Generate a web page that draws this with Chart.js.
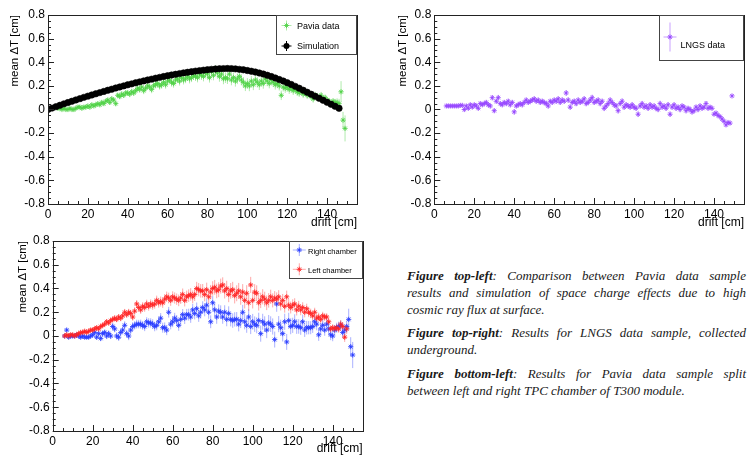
<!DOCTYPE html>
<html>
<head>
<meta charset="utf-8">
<script src="https://cdn.jsdelivr.net/npm/chart.js@4/dist/chart.umd.min.js"></script>
<style>
  body { margin: 0; width: 750px; height: 455px; background: #fff; position: relative; overflow: hidden; }
  canvas { position: absolute; }
  #cap { position: absolute; left: 407px; top: 267px; width: 339px; font-family: "Liberation Serif", "DejaVu Serif", serif;
         font-style: italic; font-size: 13px; line-height: 17px; color: #1a1a1a; }
  #cap .j { text-align: justify; text-align-last: justify; }
  #cap .p { margin-top: 6px; }
</style>
</head>
<body>
<canvas id="c1" width="375" height="230" style="left:0;top:0"></canvas>
<canvas id="c2" width="375" height="230" style="left:375px;top:0"></canvas>
<canvas id="c3" width="375" height="225" style="left:0;top:230px"></canvas>
<div id="cap">
  <div class="j"><b>Figure top-left</b>: Comparison between Pavia data sample</div>
  <div class="j">results and simulation of space charge effects due to high</div>
  <div>cosmic ray flux at surface.</div>
  <div class="j p"><b>Figure top-right</b>: Results for LNGS data sample, collected</div>
  <div>underground.</div>
  <div class="j p" style="margin-top:7px"><b>Figure bottom-left</b>: Results for Pavia data sample split</div>
  <div>between left and right TPC chamber of T300 module.</div>
</div>
<script>
// drift positions [cm], one bin per cm
const drift = [0,1,2,3,4,5,6,7,8,9,10,11,12,13,14,15,16,17,18,19,20,21,22,23,24,25,26,27,28,29,
  30,31,32,33,34,35,36,37,38,39,40,41,42,43,44,45,46,47,48,49,50,51,52,53,54,55,56,57,58,59,
  60,61,62,63,64,65,66,67,68,69,70,71,72,73,74,75,76,77,78,79,80,81,82,83,84,85,86,87,88,89,
  90,91,92,93,94,95,96,97,98,99,100,101,102,103,104,105,106,107,108,109,110,111,112,113,114,115,116,117,118,119,
  120,121,122,123,124,125,126,127,128,129,130,131,132,133,134,135,136,137,138,139,140,141,142,143,144,145,146,147,148,149,150];

const yTicks = [-0.8, -0.6, -0.4, -0.2, 0, 0.2, 0.4, 0.6, 0.8];
const xTicks = [0, 20, 40, 60, 80, 100, 120, 140];

// Pavia data, drift 5..149
const pavStart = 5;
const pavia = [0.01,0.01,0.00,0.01,0.00, 0.00,0.01,0.00,0.00,0.01, 0.02,0.02,0.01,0.02,0.02,
  0.03,0.02,0.04,0.03,0.04, 0.05,0.04,0.06,0.05,0.07, 0.08,0.06,0.09,0.08,0.05,
  0.12,0.11,0.13,0.12,0.14, 0.14,0.13,0.15,0.14,0.16, 0.18,0.17,0.19,0.16,0.18,
  0.20,0.19,0.17,0.20,0.21, 0.22,0.20,0.21,0.23,0.21, 0.24,0.25,0.23,0.22,0.25,
  0.26,0.24,0.27,0.25,0.26, 0.28,0.26,0.27,0.29,0.28, 0.27,0.30,0.29,0.28,0.31,
  0.30,0.27,0.32,0.29,0.33, 0.31,0.28,0.30,0.26,0.27, 0.26,0.30,0.25,0.27,0.24,
  0.26,0.28,0.25,0.23,0.20, 0.22,0.20,0.24,0.21,0.25, 0.23,0.21,0.24,0.22,0.26,
  0.24,0.22,0.25,0.23,0.21, 0.22,0.20,0.12,0.19,0.18, 0.19,0.17,0.18,0.16,0.17,
  0.15,0.14,0.16,0.13,0.15, 0.12,0.13,0.11,0.09,0.12, 0.11,0.10,0.12,0.09,0.10,
  0.08,0.07,0.05,0.07,0.06, 0.06,0.05,0.15,-0.09,-0.16];
const paviaErr = [.006,.007,.006,.007,.008,.007,.008,.008,.009,.009,
  .010,.011,.010,.012,.012,.013,.012,.014,.014,.015,
  .016,.015,.017,.018,.018,.019,.020,.021,.020,.022,
  .022,.023,.024,.023,.025,.025,.026,.027,.026,.028,
  .028,.029,.028,.030,.030,.031,.030,.032,.031,.032,
  .033,.032,.034,.033,.034,.035,.034,.036,.035,.036,
  .036,.037,.036,.038,.037,.038,.039,.038,.040,.039,
  .040,.041,.040,.042,.041,.043,.042,.044,.043,.045,
  .044,.045,.044,.046,.045,.044,.046,.045,.044,.046,
  .045,.044,.046,.045,.044,.046,.045,.044,.046,.045,
  .044,.045,.043,.044,.042,.043,.041,.042,.040,.041,
  .040,.039,.040,.038,.039,.037,.038,.036,.037,.035,
  .036,.034,.035,.033,.034,.032,.033,.031,.032,.030,
  .031,.030,.029,.030,.028,.029,.027,.028,.026,.030,
  .035,.040,.090,.070,.110];

// Simulation, every 2 cm from 0 to 146
const simDrift = [0,2,4,6,8,10,12,14,16,18,20,22,24,26,28,30,32,34,36,38,40,42,44,46,48,50,52,54,56,58,
  60,62,64,66,68,70,72,74,76,78,80,82,84,86,88,90,92,94,96,98,100,102,104,106,108,110,112,114,116,118,
  120,122,124,126,128,130,132,134,136,138,140,142,144,146];
const simulation = [0.000,0.012,0.024,0.036,0.048,0.059,0.070,0.081,0.092,0.103,
  0.113,0.123,0.133,0.143,0.153,0.163,0.172,0.182,0.191,0.200,
  0.209,0.217,0.226,0.234,0.242,0.250,0.257,0.265,0.272,0.279,
  0.286,0.292,0.298,0.304,0.310,0.315,0.320,0.325,0.329,0.333,
  0.337,0.340,0.343,0.345,0.346,0.347,0.346,0.344,0.340,0.336,
  0.330,0.324,0.317,0.309,0.300,0.290,0.279,0.267,0.254,0.241,
  0.227,0.212,0.196,0.180,0.163,0.146,0.129,0.112,0.095,0.078,
  0.061,0.044,0.027,0.010];

// LNGS data, drift 6..149
const lngsStart = 6;
const lngs = [0.03,0.03,0.03,0.03, 0.03,0.03,0.03,0.035,0.035, 0.00,0.03,0.01,0.04,0.02,
  0.04,0.03,0.01,0.05,0.04, 0.05,0.06,0.04,0.03,0.10, -0.01,0.07,0.10,0.05,0.04,
  0.06,0.05,0.07,0.04,0.06, -0.02,0.03,0.04,0.05,0.04, 0.06,0.08,0.06,0.07,0.08,
  0.09,0.07,0.08,0.06,0.07, 0.06,0.05,0.03,0.07,0.06, 0.08,0.07,0.09,0.06,0.08,
  0.07,0.14,0.08,0.02,0.06, 0.07,0.05,0.08,0.06,0.07, 0.09,0.05,0.06,0.08,0.10,
  0.06,0.07,0.08,0.05,0.07, 0.01,0.03,0.05,0.08,0.06, 0.04,0.03,-0.01,0.05,0.07,
  0.02,0.04,0.03,0.02,0.04, 0.02,0.01,-0.04,0.03,0.05, 0.02,0.03,0.01,0.04,0.02,
  0.03,0.01,0.00,0.05,0.02, 0.03,0.01,0.04,-0.04,0.02, 0.04,0.01,0.02,0.00,0.03,
  0.02,-0.01,0.01,0.00,-0.02, -0.01,0.02,0.00,0.03,0.01, 0.02,0.05,0.01,0.02,0.01,
  -0.04,-0.03,-0.05,-0.06,-0.08, -0.10,-0.13,-0.11,-0.115,0.115];
const lngsErr = [.004,.004,.004,.004, .004,.005,.005,.005,.006, .018,.015,.016,.017,.015,
  .016,.018,.017,.016,.018, .017,.019,.018,.020,.022, .020,.019,.024,.021,.020,
  .019,.021,.020,.022,.021, .024,.020,.021,.019,.022, .020,.021,.022,.020,.021,
  .022,.021,.020,.022,.021, .023,.021,.022,.020,.022, .021,.023,.022,.021,.024,
  .022,.025,.023,.022,.021, .022,.021,.023,.022,.021, .023,.022,.021,.024,.026,
  .022,.021,.023,.022,.021, .024,.022,.021,.023,.022, .023,.022,.025,.021,.024,
  .022,.023,.021,.022,.024, .023,.022,.024,.021,.023, .022,.024,.021,.023,.022,
  .024,.022,.023,.025,.021, .023,.022,.024,.023,.022, .021,.023,.022,.024,.021,
  .022,.023,.021,.022,.023, .022,.021,.023,.022,.021, .020,.021,.019,.018,.017,
  .015,.014,.015,.014,.016, .017,.018,.016,.015,.010];

// Right chamber, drift 6..150
const rightStart = 6;
const rightCh = [0.00,0.05,-0.01,0.00, 0.00,0.00,0.01,0.00,-0.01, 0.00,-0.01,-0.01,-0.01,0.00,
  0.01,0.03,-0.01,0.02,-0.02, 0.02,0.03,0.00,0.02,0.00, 0.08,0.06,0.00,-0.01,0.03,
  0.05,0.09,0.02,0.00,0.05, 0.08,0.09,0.10,0.10,0.10, 0.09,0.08,0.12,0.11,0.11,
  0.10,0.08,0.09,0.12,0.15, 0.07,0.07,0.05,0.20,0.10, 0.12,0.15,0.13,0.09,0.14,
  0.18,0.15,0.18,0.18,0.16, 0.22,0.19,0.23,0.17,0.20, 0.24,0.22,0.26,0.20,0.12,
  0.28,0.22,0.16,0.21,0.20, 0.16,0.20,0.14,0.19,0.14, 0.13,0.14,0.14,0.10,0.13,
  0.20,0.12,0.09,0.16,0.08, 0.12,0.10,0.09,0.13,0.02, 0.12,0.10,0.05,0.11,0.10,
  0.08,-0.03,0.27,0.10,0.07, 0.02,0.12,-0.05,0.13,0.08, 0.09,0.12,0.08,0.08,0.07,
  0.12,0.05,0.07,0.07,0.07, 0.08,0.12,0.10,0.01,0.06, 0.09,0.05,0.10,0.06,0.01,
  0.00,0.05,0.07,0.08,0.09, 0.03,0.05,0.08,0.14,-0.09,-0.16];
const rightErr = [.010,.015,.010,.010, .010,.011,.012,.012,.013, .013,.014,.014,.015,.016,
  .020,.022,.021,.023,.024, .025,.024,.026,.027,.026, .030,.029,.031,.032,.030,
  .033,.034,.032,.035,.034, .036,.035,.037,.036,.038, .037,.039,.038,.040,.039,
  .041,.040,.042,.041,.043, .042,.044,.043,.045,.044, .046,.045,.047,.046,.048,
  .047,.049,.048,.050,.049, .051,.050,.052,.051,.053, .052,.054,.053,.055,.054,
  .056,.055,.057,.056,.058, .057,.059,.058,.060,.059, .061,.060,.062,.061,.063,
  .062,.064,.063,.065,.064, .066,.065,.067,.066,.068, .067,.066,.068,.067,.066,
  .068,.067,.066,.068,.067, .066,.068,.067,.066,.065, .064,.063,.062,.061,.060,
  .059,.058,.057,.056,.055, .054,.053,.052,.051,.050, .049,.048,.047,.046,.045,
  .044,.043,.042,.041,.040, .042,.045,.050,.090,.080,.110];

// Left chamber, drift 6..147
const leftStart = 6;
const leftCh = [0.00,0.01,0.00,0.01, 0.01,0.00,0.01,0.02,0.03, 0.03,0.04,0.03,0.04,0.05,
  0.05,0.06,0.07,0.06,0.08, 0.09,0.10,0.12,0.11,0.13, 0.14,0.15,0.14,0.16,0.15,
  0.17,0.20,0.18,0.20,0.19, 0.16,0.21,0.27,0.24,0.22, 0.25,0.24,0.27,0.25,0.27,
  0.26,0.27,0.30,0.28,0.29, 0.28,0.31,0.33,0.32,0.30, 0.33,0.32,0.31,0.30,0.32,
  0.35,0.30,0.33,0.34,0.35, 0.33,0.35,0.40,0.39,0.38, 0.38,0.35,0.39,0.33,0.37,
  0.40,0.41,0.38,0.39,0.42, 0.43,0.38,0.40,0.35,0.38, 0.39,0.34,0.36,0.38,0.33,
  0.37,0.30,0.36,0.28,0.43, 0.30,0.37,0.36,0.28,0.30, 0.33,0.31,0.28,0.30,0.33,
  0.30,0.32,0.31,0.33,0.27, 0.30,0.25,0.33,0.26,0.24, 0.26,0.27,0.22,0.25,0.22,
  0.24,0.20,0.23,0.20,0.19, 0.17,0.20,0.15,0.16,0.14, 0.17,0.16,0.16,0.12,0.06,
  0.07,0.06,0.07,0.06,0.10, 0.08,-0.01,0.06];
const leftErr = [.008,.008,.009,.009, .009,.010,.010,.011,.011, .012,.012,.013,.013,.014,
  .015,.016,.016,.017,.018, .019,.020,.020,.021,.022, .023,.024,.024,.025,.026,
  .027,.028,.028,.029,.030, .031,.032,.033,.033,.034, .035,.036,.036,.037,.038,
  .039,.040,.040,.041,.042, .043,.043,.044,.045,.046, .046,.047,.048,.049,.050,
  .050,.051,.052,.053,.053, .054,.055,.056,.056,.057, .058,.058,.059,.060,.060,
  .061,.062,.062,.063,.063, .064,.064,.065,.065,.066, .066,.066,.067,.067,.067,
  .067,.068,.068,.068,.068, .068,.067,.067,.066,.065, .064,.063,.062,.061,.060,
  .059,.058,.057,.056,.055, .054,.053,.052,.051,.050, .049,.048,.047,.046,.045,
  .044,.043,.042,.041,.040, .039,.038,.037,.036,.035, .034,.033,.032,.031,.030,
  .030,.031,.032,.033,.035, .037,.040,.042];

const FONT = '"Liberation Sans", Arial, sans-serif';
Chart.defaults.font.family = FONT;
Chart.defaults.color = '#000';

// pair x bins with values
function points(start, vals) {
  const xs = drift.slice(start, start + vals.length);
  return vals.map((v, i) => ({ x: xs[i], y: v }));
}

function drawStar(ctx, x, y, r) {
  ctx.beginPath();
  ctx.moveTo(x - r, y); ctx.lineTo(x + r, y);
  ctx.moveTo(x, y - r); ctx.lineTo(x, y + r);
  const d = r * 0.7071;
  ctx.moveTo(x - d, y - d); ctx.lineTo(x + d, y + d);
  ctx.moveTo(x - d, y + d); ctx.lineTo(x + d, y - d);
  ctx.stroke();
}

// vertical error bars and half-bin horizontal bars, ROOT style
const errorBars = {
  id: 'errorBars',
  beforeDatasetsDraw(chart) {
    const { ctx, chartArea: a } = chart;
    const xs = chart.scales.x, ys = chart.scales.y;
    ctx.save();
    ctx.beginPath(); ctx.rect(a.left, a.top, a.right - a.left, a.bottom - a.top); ctx.clip();
    ctx.lineWidth = 1;
    chart.data.datasets.forEach(ds => {
      if (!ds.errY) return;
      ctx.strokeStyle = ds.barColor;
      ds.data.forEach((p, j) => {
        const px = xs.getPixelForValue(p.x);
        const py = ys.getPixelForValue(p.y);
        ctx.beginPath();
        ctx.moveTo(px, ys.getPixelForValue(p.y - ds.errY[j]));
        ctx.lineTo(px, ys.getPixelForValue(p.y + ds.errY[j]));
        ctx.moveTo(xs.getPixelForValue(p.x - 0.5), py);
        ctx.lineTo(xs.getPixelForValue(p.x + 0.5), py);
        ctx.stroke();
      });
    });
    ctx.restore();
  }
};

// frame, inward ticks, axis titles and legend box
const rootFrame = {
  id: 'rootFrame',
  afterDraw(chart, args, o) {
    const { ctx, chartArea: a } = chart;
    const xs = chart.scales.x, ys = chart.scales.y;
    ctx.save();
    ctx.strokeStyle = '#222';
    ctx.lineWidth = 1;
    ctx.strokeRect(Math.round(a.left) + 0.5, Math.round(a.top) + 0.5,
      Math.round(a.right - a.left), Math.round(a.bottom - a.top));
    ctx.beginPath();
    for (let v = -0.8; v <= 0.8001; v += 0.05) {
      const major = Math.abs(v / 0.2 - Math.round(v / 0.2)) < 1e-6;
      const y = Math.round(ys.getPixelForValue(v)) + 0.5;
      ctx.moveTo(a.left, y); ctx.lineTo(a.left + (major ? 6 : 3), y);
    }
    for (let v = 0; v <= 155; v += 5) {
      const major = v % 20 === 0;
      const x = Math.round(xs.getPixelForValue(v)) + 0.5;
      ctx.moveTo(x, a.bottom); ctx.lineTo(x, a.bottom - (major ? 6 : 3));
    }
    ctx.stroke();

    // axis titles
    ctx.fillStyle = '#000';
    ctx.font = '11.5px ' + FONT;
    ctx.textBaseline = 'middle';
    ctx.textAlign = 'right';
    ctx.save();
    ctx.translate(o.yTitleX, a.top);
    ctx.rotate(-Math.PI / 2);
    ctx.fillText('mean \u0394T [cm]', 0, 0);
    ctx.restore();
    ctx.font = '12px ' + FONT;
    ctx.fillText('drift [cm]', a.right, o.xTitleY);

    // legend
    const L = o.legend;
    ctx.fillStyle = '#fff';
    ctx.fillRect(L.box[0], L.box[1], L.box[2] - L.box[0], L.box[3] - L.box[1]);
    ctx.strokeStyle = '#444';
    ctx.strokeRect(L.box[0] + 0.5, L.box[1] + 0.5, L.box[2] - L.box[0] - 1, L.box[3] - L.box[1] - 1);
    ctx.font = L.size + 'px ' + FONT;
    ctx.textAlign = 'left';
    L.items.forEach(it => {
      const ds = chart.data.datasets[it.ds];
      ctx.strokeStyle = ds.barColor || ds.borderColor;
      ctx.beginPath();
      ctx.moveTo(it.mx - L.hh, it.my); ctx.lineTo(it.mx + L.hh, it.my);
      ctx.moveTo(it.mx, it.my - L.vh); ctx.lineTo(it.mx, it.my + L.vh);
      ctx.stroke();
      if (ds.pointStyle === 'circle') {
        ctx.fillStyle = ds.backgroundColor;
        ctx.beginPath(); ctx.arc(it.mx, it.my, 3, 0, Math.PI * 2); ctx.fill();
      } else {
        ctx.strokeStyle = ds.borderColor;
        drawStar(ctx, it.mx, it.my, 2.6);
      }
      ctx.fillStyle = '#000';
      ctx.fillText(ds.label, it.tx, it.ty);
    });
    ctx.restore();
  }
};

function dataSet(label, data, err, marker, bar, order) {
  return {
    label: label, data: data, errY: err, barColor: bar, order: order,
    pointStyle: 'star', pointRadius: 2.6, borderWidth: 1,
    borderColor: marker, backgroundColor: marker
  };
}

function makeChart(id, datasets, L, T, R, xH, frame) {
  return new Chart(document.getElementById(id), {
    type: 'scatter',
    data: { datasets: datasets },
    plugins: [errorBars, rootFrame],
    options: {
      responsive: false, animation: false, events: [], devicePixelRatio: 1,
      layout: { padding: { left: 0, top: T, right: R, bottom: 0 } },
      plugins: { legend: { display: false }, tooltip: { enabled: false }, rootFrame: frame },
      scales: {
        x: {
          type: 'linear', min: 0, max: 155,
          afterFit: s => { s.height = xH; },
          afterBuildTicks: s => { s.ticks = xTicks.map(v => ({ value: v })); },
          grid: { display: false, drawTicks: false, tickLength: 0 }, border: { display: false },
          ticks: { font: { size: 12 }, padding: 3, maxRotation: 0, autoSkip: false, color: '#000' }
        },
        y: {
          type: 'linear', min: -0.8, max: 0.8,
          afterFit: s => { s.width = L; },
          afterBuildTicks: s => { s.ticks = yTicks.map(v => ({ value: v })); },
          grid: { display: false, drawTicks: false, tickLength: 0 }, border: { display: false },
          ticks: { font: { size: 12 }, padding: 3, color: '#000',
            callback: v => String(Math.round(v * 10) / 10) }
        }
      }
    }
  });
}

const green = 'rgba(80,210,70,0.85)', greenBar = 'rgba(80,210,70,0.45)';
const purple = 'rgba(150,70,255,0.85)', purpleBar = 'rgba(150,70,255,0.5)';
const blue = 'rgba(40,60,255,0.85)', blueBar = 'rgba(40,60,255,0.4)';
const red = 'rgba(255,35,35,0.85)', redBar = 'rgba(255,35,35,0.4)';

const simSet = {
  label: 'Simulation', order: 0,
  data: simulation.map((v, i) => ({ x: simDrift[i], y: v })),
  pointStyle: 'circle', pointRadius: 3.2, borderWidth: 0.6,
  borderColor: '#000', backgroundColor: '#000'
};

makeChart('c1', [
  dataSet('Pavia data', points(pavStart, pavia), paviaErr, green, greenBar, 1),
  simSet
], 48, 15, 18, 26, {
  yTitleX: 15, xTitleY: 223,
  legend: { box: [276, 15, 357, 55], size: 9, hh: 5, vh: 5,
    items: [{ ds: 0, mx: 286.5, my: 25.5, tx: 297, ty: 26.5 },
            { ds: 1, mx: 286.5, my: 46, tx: 297, ty: 47 }] }
});

makeChart('c2', [
  dataSet('LNGS data', points(lngsStart, lngs), lngsErr, purple, purpleBar, 0)
], 59.3, 15, 6, 26, {
  yTitleX: 28, xTitleY: 223,
  legend: { box: [284, 15, 369, 61], size: 9, hh: 6.5, vh: 14.5,
    items: [{ ds: 0, mx: 295, my: 37, tx: 305.5, ty: 46 }] }
});

makeChart('c3', [
  dataSet('Right chamber', points(rightStart, rightCh), rightErr, blue, blueBar, 1),
  dataSet('Left chamber', points(leftStart, leftCh), leftErr, red, redBar, 0)
], 52.7, 11, 12.3, 24, {
  yTitleX: 23, xTitleY: 218.5,
  legend: { box: [289, 11, 363, 49], size: 7.5, hh: 6.5, vh: 6,
    items: [{ ds: 0, mx: 299.3, my: 20, tx: 308, ty: 22 },
            { ds: 1, mx: 299.3, my: 39.3, tx: 308, ty: 41 }] }
});
</script>
</body>
</html>
